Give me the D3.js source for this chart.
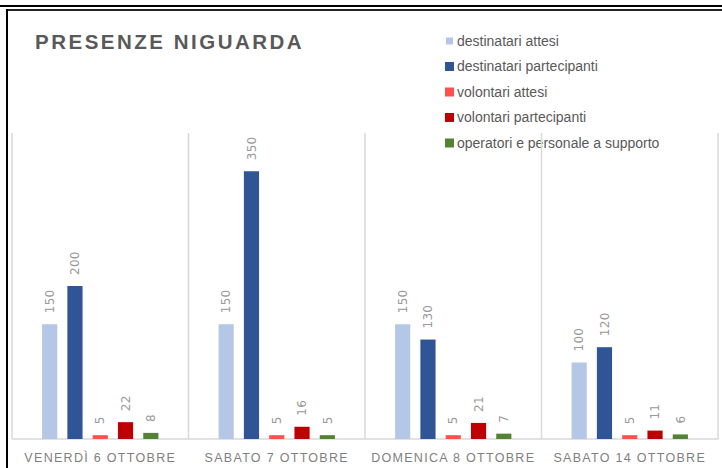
<!DOCTYPE html>
<html>
<head>
<meta charset="utf-8">
<script src="https://cdn.jsdelivr.net/npm/d3@7"></script>
<style>
  body { margin: 0; background: #fff; }
  svg { display: block; }
</style>
</head>
<body>
<div id="chart"></div>
<script>
var categories = ["VENERDÌ 6 OTTOBRE", "SABATO 7 OTTOBRE", "DOMENICA 8 OTTOBRE", "SABATO 14 OTTOBRE"];
var seriesNames = ["destinatari attesi", "destinatari partecipanti", "volontari attesi", "volontari partecipanti", "operatori e personale a supporto"];
var destinatariAttesi = [150, 150, 150, 100];
var destinatariPartecipanti = [200, 350, 130, 120];
var volontariAttesi = [5, 5, 5, 5];
var volontariPartecipanti = [22, 16, 21, 11];
var operatori = [8, 5, 7, 6];
var colors = ["#b4c7e7", "#2f5597", "#ff5050", "#c00000", "#548235"];

var values = [destinatariAttesi, destinatariPartecipanti, volontariAttesi, volontariPartecipanti, operatori];

var W = 722, H = 468;
var plotLeft = 12, plotRight = 718, plotTop = 133, plotBottom = 439;

var svg = d3.select("#chart")
  .append("svg")
  .attr("width", W)
  .attr("height", H);

// frame lines
svg.append("rect").attr("x", 0).attr("y", 5).attr("width", W).attr("height", 2).attr("fill", "#000");
svg.append("rect").attr("x", 6).attr("y", 9).attr("width", W - 6).attr("height", 2).attr("fill", "#222");
svg.append("rect").attr("x", 6).attr("y", 9).attr("width", 2).attr("height", H - 9).attr("fill", "#000");

var x0 = d3.scaleBand()
  .domain(categories)
  .range([plotLeft, plotRight]);

var x1 = d3.scaleBand()
  .domain(d3.range(seriesNames.length))
  .range([0, x0.bandwidth()])
  .paddingInner(0.4)
  .paddingOuter(1.19);

var y = d3.scaleLinear()
  .domain([0, 400])
  .range([plotBottom, plotTop]);

// title
svg.append("text")
  .attr("x", 35)
  .attr("y", 49)
  .attr("font-family", "'Liberation Sans', Arial, sans-serif")
  .attr("font-weight", "bold")
  .attr("font-size", 20.5)
  .attr("letter-spacing", 2.5)
  .attr("fill", "#595959")
  .text("PRESENZE NIGUARDA");

// legend
var legend = svg.append("g")
  .selectAll("g")
  .data(seriesNames)
  .enter()
  .append("g")
  .attr("transform", (d, i) => "translate(445," + (41 + i * 25.5) + ")");

legend.append("rect")
  .attr("x", (d, i) => i == 0 ? 1 : 0)
  .attr("y", (d, i) => i == 0 ? -3.5 : -4.5)
  .attr("width", (d, i) => i == 0 ? 7 : 9)
  .attr("height", (d, i) => i == 0 ? 7 : 9)
  .attr("fill", (d, i) => colors[i]);

legend.append("text")
  .attr("x", 12)
  .attr("dy", "0.35em")
  .attr("font-family", "'Liberation Sans Narrow', 'Liberation Sans', Arial, sans-serif")
  .attr("font-size", 14)
  .attr("fill", "#595959")
  .text(d => d);

// vertical separators
svg.append("g")
  .selectAll("line")
  .data(categories.concat(["end"]))
  .enter()
  .append("line")
  .attr("x1", (d, i) => i < categories.length ? x0(d) : plotRight)
  .attr("x2", (d, i) => i < categories.length ? x0(d) : plotRight)
  .attr("y1", plotTop)
  .attr("y2", plotBottom)
  .attr("stroke", "#d9d9d9")
  .attr("stroke-width", 1.5);

// baseline
svg.append("line")
  .attr("x1", plotLeft).attr("x2", plotRight)
  .attr("y1", plotBottom).attr("y2", plotBottom)
  .attr("stroke", "#d9d9d9")
  .attr("stroke-width", 1.5);

// bars
var groups = svg.append("g")
  .selectAll("g")
  .data(categories)
  .enter()
  .append("g")
  .attr("transform", d => "translate(" + x0(d) + ",0)");

var cells = groups.selectAll("g")
  .data((d, ci) => values.map((s, si) => ({series: si, value: s[ci]})))
  .enter()
  .append("g");

cells.append("rect")
  .attr("x", d => x1(d.series))
  .attr("y", d => y(d.value))
  .attr("width", x1.bandwidth())
  .attr("height", d => plotBottom - y(d.value))
  .attr("fill", d => colors[d.series]);

cells.append("text")
  .attr("transform", d => "translate(" + (x1(d.series) + x1.bandwidth() / 2) + "," + (y(d.value) - 11) + ")rotate(-90)")
  .attr("dy", "0.35em")
  .attr("font-family", "'DejaVu Sans', sans-serif")
  .attr("font-size", 12)
  .attr("letter-spacing", 0.3)
  .attr("fill", "#999999")
  .text(d => d.value);

// category labels
svg.append("g")
  .selectAll("text")
  .data(categories)
  .enter()
  .append("text")
  .attr("x", d => x0(d) + x0.bandwidth() / 2)
  .attr("y", 462)
  .attr("text-anchor", "middle")
  .attr("font-family", "'Liberation Sans', Arial, sans-serif")
  .attr("font-size", 12.5)
  .attr("letter-spacing", 1.3)
  .attr("fill", "#7f7f7f")
  .text(d => d);
</script>
</body>
</html>
